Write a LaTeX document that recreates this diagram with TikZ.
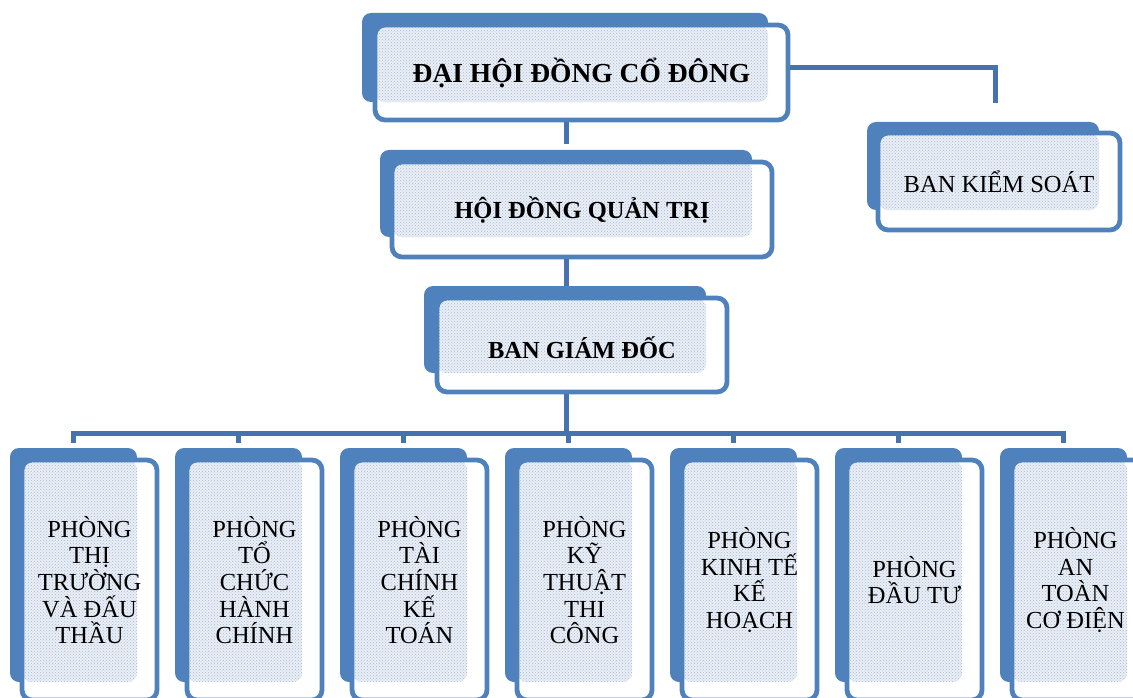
\documentclass[tikz,border=0pt]{standalone}
\usepackage{fontspec}
\setmainfont{Liberation Serif}
\usetikzlibrary{fit,patterns,calc}
\definecolor{boxblue}{HTML}{4F81BD}
\definecolor{linec}{HTML}{4673B0}
\definecolor{dotc}{HTML}{A8BAD3}
\definecolor{basec}{HTML}{EAEFF6}
\tikzset{
  backbox/.style={fill=boxblue, draw=none, rounded corners=9pt, inner sep=0pt},
  frontbox/.style={fill=white, draw=boxblue, line width=4.8pt, rounded corners=10pt,
    inner sep=0pt,
    path picture={
      \fill[basec] (path picture bounding box.north west) rectangle (#1.south east);
      \fill[pattern=crosshatch dots, pattern color=dotc] (path picture bounding box.north west) rectangle (#1.south east);
    }},
  titletext/.style={font=\fontsize{27.5}{30}\selectfont\bfseries, inner sep=0pt, align=center},
  headtext/.style={font=\fontsize{24.5}{27}\selectfont\bfseries, inner sep=0pt, align=center},
  plaintext/.style={font=\fontsize{24.5}{26.7}\selectfont, inner sep=0pt, align=center},
  conn/.style={draw=linec, line width=5pt},
}
\begin{document}
\begin{tikzpicture}[x=1pt,y=-1pt]
\useasboundingbox (0,0) rectangle (1133,698);
\clip (0,0) rectangle (1133,698);

% top
\node[backbox, fit={(362,13)(768,102)}] (dhcd-b) {};
\node[frontbox=dhcd-b, fit={(375,25)(788,120)}] (dhcd) {};
\node[titletext] (dhcd-t) at (dhcd.center) {ĐẠI HỘI ĐỒNG CỔ ĐÔNG};

\node[backbox, fit={(380,150)(752,237)}] (hdqt-b) {};
\node[frontbox=hdqt-b, fit={(392,162)(772,257)}] (hdqt) {};
\node[headtext] (hdqt-t) at (hdqt.center) {HỘI ĐỒNG QUẢN TRỊ};

\node[backbox, fit={(424,286)(706,373)}] (bgd-b) {};
\node[frontbox=bgd-b, fit={(437,298)(727,392)}] (bgd) {};
\node[headtext] (bgd-t) at ($(bgd.center)+(0,3)$) {BAN GIÁM ĐỐC};

\node[backbox, fit={(867,122)(1099,210)}] (bks-b) {};
\node[frontbox=bks-b, fit={(878,133)(1120,230)}] (bks) {};
\node[plaintext] (bks-t) at (bks.center) {BAN KIỂM SOÁT};

\foreach \i/\t/\dx in {
  0/{PHÒNG\\THỊ\\TRƯỜNG\\VÀ ĐẤU\\THẦU}/0,
  1/{PHÒNG\\TỔ\\CHỨC\\HÀNH\\CHÍNH}/0,
  2/{PHÒNG\\TÀI\\CHÍNH\\KẾ\\TOÁN}/0,
  3/{PHÒNG\\KỸ\\THUẬT\\THI\\CÔNG}/0,
  4/{PHÒNG\\KINH TẾ\\KẾ\\HOẠCH}/0,
  5/{PHÒNG\\ĐẦU TƯ}/0,
  6/{PHÒNG\\AN\\TOÀN\\CƠ ĐIỆN}/-4} {
  \node[backbox, fit={(10+165*\i,448)(137+165*\i,682)}] (p\i-b) {};
  \node[frontbox=p\i-b, fit={(22+165*\i,460)(157+165*\i,700)}] (p\i) {};
  \node[plaintext] (p\i-t) at ($(p\i.center)+(\dx,0)$) {\t};
}

% connectors
\coordinate (spine) at (566,0);
\coordinate (bus) at (0,433);
\coordinate (kturn) at (995,68);
\coordinate (kend) at (995,103);
\draw[conn] (dhcd.south -| spine) -- ($(hdqt-b.north -| spine)+(0,-6)$);
\draw[conn] (hdqt.south -| spine) -- (bgd-b.north -| spine);
\draw[conn] (bgd.south -| spine) -- (bus -| spine);
\draw[conn, line cap=rect] (p0-b.north |- bus) -- (p6-b.north |- bus);
\foreach \i in {0,...,6} {
  \draw[conn] (p\i-b.north |- bus) -- ($(p\i-b.north)+(0,-5)$);
}
\draw[conn] (dhcd.east |- kturn) -- (kturn) -- (kend);
\end{tikzpicture}
\end{document}
